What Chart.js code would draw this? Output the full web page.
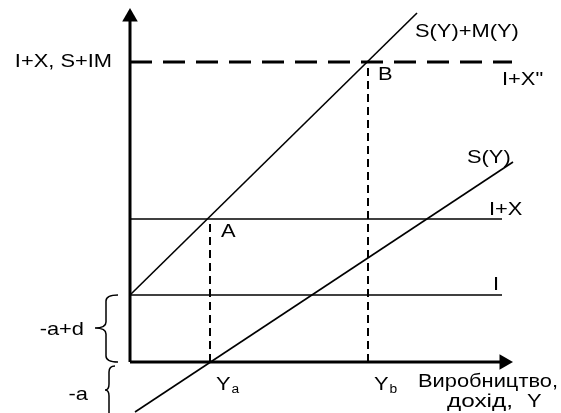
<!DOCTYPE html>
<html>
<head>
<meta charset="utf-8">
<script src="https://cdn.jsdelivr.net/npm/chart.js@4"></script>
<style>
  body { margin: 0; background: #fff; }
  #wrap { width: 561px; height: 413px; position: relative; }
</style>
</head>
<body>
<div id="wrap"><canvas id="chart"></canvas></div>
<script>
// horizontal levels: I, I+X, I+X''
const levelNames = ['I', 'I+X', 'I+X"'];
const levelValues = [3.35, 7.15, 15];
const levelEnds = [18.6, 18.6, 19.1];

// S(Y) line end points
const savingsX = [0.25, 19.15];
const savingsY = [-2.5, 10];

// S(Y)+M(Y) line end points
const saveImportX = [0, 14.35];
const saveImportY = [3.35, 17.45];

// equilibrium incomes Ya, Yb
const outputNames = ['Y', 'Y'];
const outputSubs = ['a', 'b'];
const outputValues = [4, 11.9];
const outputTops = [7.15, 15];

// axis ends
const xAxisEnd = 18.7;
const yAxisEnd = 17.25;

const FONT = '"Liberation Sans", Arial, sans-serif';
const STRETCH = 1.15;

function seg(x0, y0, x1, y1) {
    return [{ x: x0, y: y0 }, { x: x1, y: y1 }];
}

const datasets = [
    // axes with arrows
    {
        data: seg(0, 0, 0, yAxisEnd), borderWidth: 3,
        pointRadius: [0, 9], pointStyle: 'triangle', pointRotation: 0
    },
    {
        data: seg(0, 0, xAxisEnd, 0), borderWidth: 3,
        pointRadius: [0, 9], pointStyle: 'triangle', pointRotation: 90
    },
    // I and I+X
    { data: seg(0, levelValues[0], levelEnds[0], levelValues[0]), borderWidth: 1.7 },
    { data: seg(0, levelValues[1], levelEnds[1], levelValues[1]), borderWidth: 1.7 },
    // I+X'' dashed
    { data: seg(0, levelValues[2], levelEnds[2], levelValues[2]), borderWidth: 3, borderDash: [22, 11] },
    // S(Y) and S(Y)+M(Y)
    { data: seg(savingsX[0], savingsY[0], savingsX[1], savingsY[1]), borderWidth: 1.6 },
    { data: seg(saveImportX[0], saveImportY[0], saveImportX[1], saveImportY[1]), borderWidth: 1.6 },
    // Ya, Yb drop lines
    { data: seg(outputValues[0], 0, outputValues[0], outputTops[0]), borderWidth: 2, borderDash: [8, 5] },
    { data: seg(outputValues[1], 0, outputValues[1], outputTops[1]), borderWidth: 2, borderDash: [8, 5] }
].map(d => Object.assign({
    showLine: true,
    borderColor: '#000',
    backgroundColor: '#000',
    pointRadius: 0,
    pointBorderWidth: 0
}, d));

const labels = [
    { text: 'I+X, S+IM', x: -0.9, y: 15, align: 'right' },
    { text: 'S(Y)+M(Y)', x: 14.25, y: 16.5 },
    { text: 'B', x: 12.4, y: 14.35 },
    { text: levelNames[2], x: 18.6, y: 14.1 },
    { text: 'S(Y)', x: 16.85, y: 10.2 },
    { text: levelNames[1], x: 17.95, y: 7.6 },
    { text: 'A', x: 4.55, y: 6.5 },
    { text: levelNames[0], x: 18.15, y: 3.85 },
    { text: '-a+d', x: -2.3, y: 1.6, align: 'right' },
    { text: '-a', x: -2.1, y: -1.65, align: 'right' },
    { text: 'Виробництво,', x: 14.4, y: -1 },
    { text: 'дохід,', x: 15.85, y: -2, stretch: 1.28 },
    { text: 'Y', x: 19.85, y: -2 }
];

const annotate = {
    id: 'annotate',
    afterDatasetsDraw(chart) {
        const ctx = chart.ctx;
        const sx = chart.scales.x, sy = chart.scales.y;
        const put = (text, px, py, align, size, stretch) => {
            const k = stretch || STRETCH;
            ctx.save();
            ctx.translate(px, py);
            ctx.scale(k, 1);
            ctx.font = size + 'px ' + FONT;
            ctx.textAlign = align;
            ctx.fillText(text, 0, 0);
            const w = ctx.measureText(text).width * k;
            ctx.restore();
            return w;
        };
        ctx.save();
        ctx.fillStyle = '#000';
        ctx.textBaseline = 'middle';
        labels.forEach(l => {
            put(l.text, sx.getPixelForValue(l.x), sy.getPixelForValue(l.y), l.align || 'left', 19, l.stretch);
        });
        // Ya, Yb with subscripts
        outputValues.forEach((v, i) => {
            const px = sx.getPixelForValue(v) + 6;
            const py = sy.getPixelForValue(0) + 23;
            const w = put(outputNames[i], px, py, 'left', 19);
            put(outputSubs[i], px + w + 1, py + 5, 'left', 12);
        });
        // braces
        ctx.strokeStyle = '#000';
        ctx.lineWidth = 1.5;
        const brace = (xr, xs, xt, yt, ym, yb) => {
            const q = 6;
            ctx.beginPath();
            ctx.moveTo(xr, yt);
            ctx.quadraticCurveTo(xs, yt, xs, yt + q);
            ctx.lineTo(xs, ym - q);
            ctx.quadraticCurveTo(xs, ym, xt, ym);
            ctx.quadraticCurveTo(xs, ym, xs, ym + q);
            ctx.lineTo(xs, yb - q);
            ctx.quadraticCurveTo(xs, yb, xr, yb);
            ctx.stroke();
        };
        brace(sx.getPixelForValue(-0.6), sx.getPixelForValue(-1.2), sx.getPixelForValue(-1.75),
            sy.getPixelForValue(levelValues[0]), sy.getPixelForValue(1.7), sy.getPixelForValue(0));
        brace(sx.getPixelForValue(-0.75), sx.getPixelForValue(-1.05), sx.getPixelForValue(-1.25),
            sy.getPixelForValue(-0.2), sy.getPixelForValue(-1.4), sy.getPixelForValue(-3.2));
        ctx.restore();
    }
};

new Chart(document.getElementById('chart'), {
    type: 'scatter',
    data: { datasets: datasets },
    options: {
        responsive: true,
        maintainAspectRatio: false,
        animation: false,
        layout: { padding: 0, autoPadding: false },
        plugins: { legend: { display: false }, tooltip: { enabled: false } },
        scales: {
            x: { type: 'linear', min: -6.5, max: 21.55, display: false },
            y: { type: 'linear', min: -2.55, max: 18.1, display: false }
        }
    },
    plugins: [annotate]
});
</script>
</body>
</html>
